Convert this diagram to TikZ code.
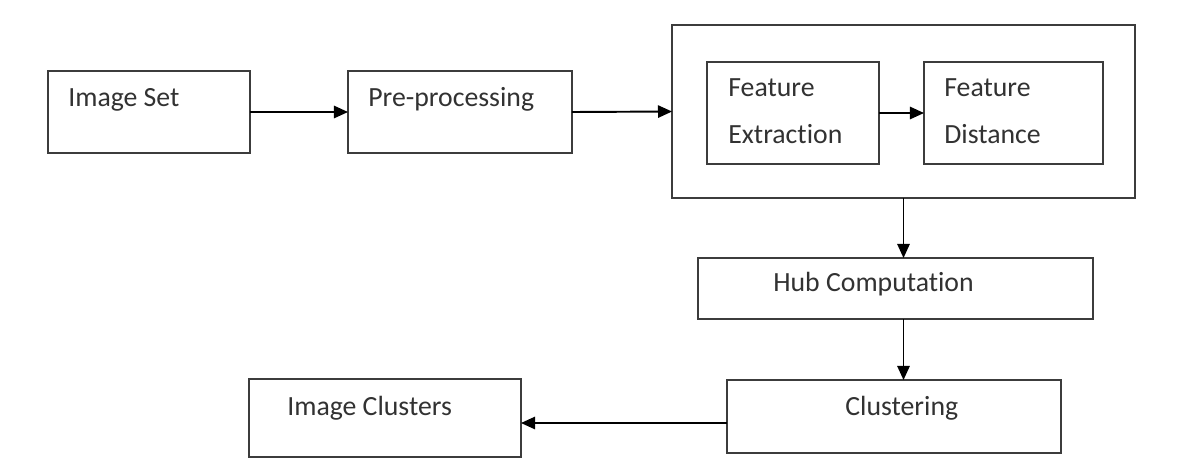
\documentclass[tikz,border=0pt]{standalone}
\usepackage{fontspec}
\setmainfont[Ligatures=NoCommon]{Carlito}
\usetikzlibrary{arrows.meta,positioning}
\definecolor{edge}{RGB}{60,60,60}
\definecolor{ink}{RGB}{50,50,50}
\tikzset{
  box/.style={draw=edge, line width=1.1pt, inner sep=0, outer sep=0, fill=white},
  lbl/.style={anchor=base west, inner sep=0, text=ink, font=\fontsize{15.8}{18}\selectfont},
  arr/.style={draw=black, line width=1.1pt, -{Triangle[length=8pt, width=7pt]}}
}

\begin{document}
\begin{tikzpicture}[x=0.02cm, y=-0.02cm]
\useasboundingbox (0,0) rectangle (1187,464);

\node[box, minimum width=4.04cm, minimum height=1.64cm] (set) at (149,112) {};
\node[box, minimum width=4.48cm, minimum height=1.64cm] (pre) at (460,112) {};
\node[box, minimum width=9.26cm, minimum height=3.46cm] (big) at (903.5,111.5) {};
\node[box, minimum width=3.44cm, minimum height=2.04cm] (fe) at (793,113) {};
\node[box, minimum width=3.58cm, minimum height=2.04cm] (fd) at (1013.5,113) {};
\node[box, minimum width=7.9cm, minimum height=1.22cm] (hub) at (895.5,288.5) {};
\node[box, minimum width=6.68cm, minimum height=1.46cm] (clu) at (894,416.5) {};
\node[box, minimum width=5.44cm, minimum height=1.56cm] (ic) at (385,418) {};

\node[lbl] (tset) at (68,106) {Image Set};
\node[lbl] (tpre) at (368,106) {Pre-processing};
\node[lbl] (tfe1) at (728,96) {Feature};
\node[lbl] (tfe2) at (728,143) {Extraction};
\node[lbl] (tfd1) at (944,96) {Feature};
\node[lbl] (tfd2) at (944,143) {Distance};
\node[lbl] (thub) at (773,291) {Hub Computation};
\node[lbl] (tclu) at (845,415) {Clustering};
\node[lbl] (tic) at (287,415) {Image Clusters};

\draw[arr] (set.east) -- (pre.west);
\draw[arr] (pre.east) -- (big.west);
\draw[arr] (fe.east) -- (fd.west);
\draw[arr] (big.south) -- (big.south |- hub.north);
\draw[arr] (hub.south -| big.south) -- (clu.north -| big.south);
\draw[arr] ([yshift=-0.13cm]clu.west) -- ([yshift=-0.13cm]clu.west -| ic.east);
\end{tikzpicture}
\end{document}
